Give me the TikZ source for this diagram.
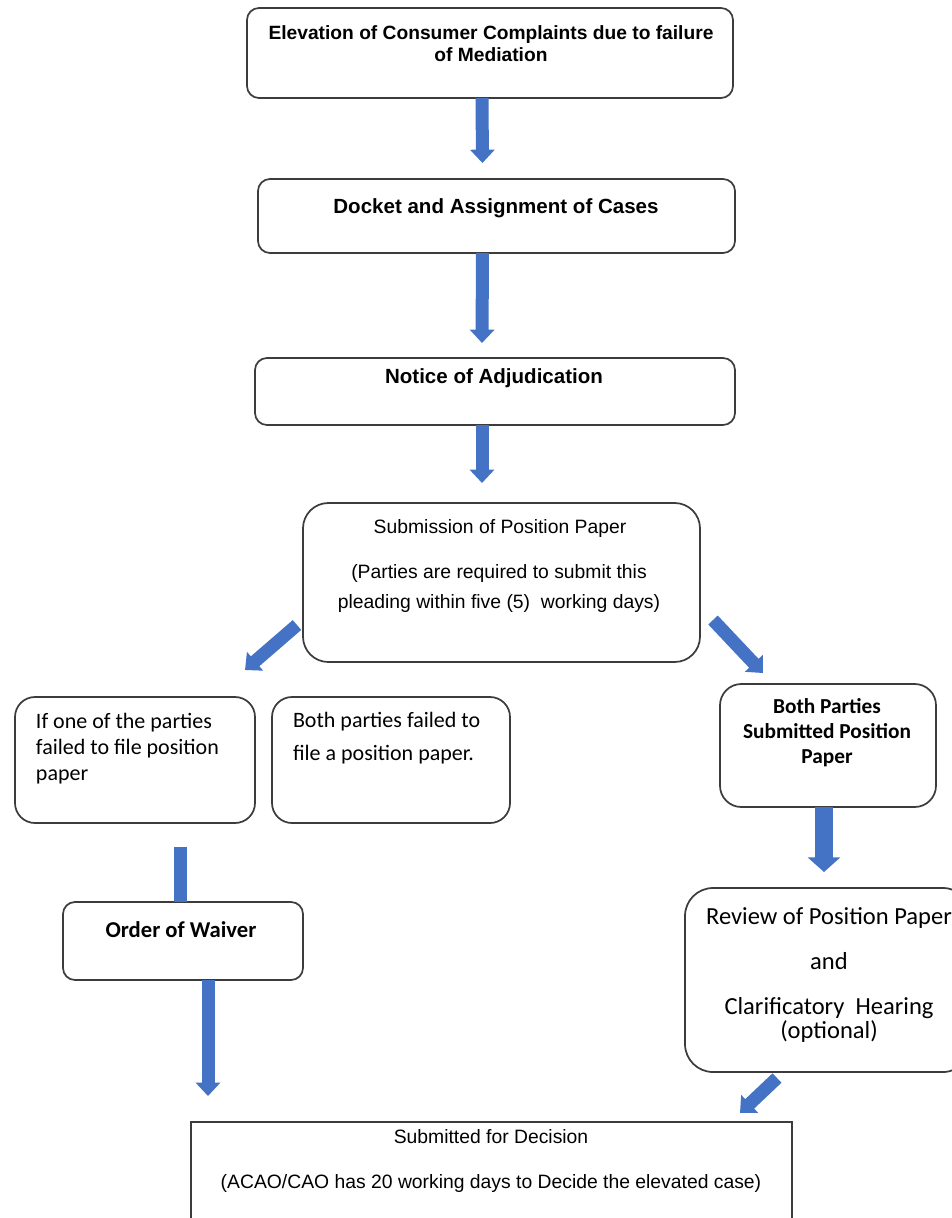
\documentclass[tikz,border=0pt]{standalone}
\usepackage{fontspec}
\setmainfont{Liberation Sans}
\newfontfamily\calib{Carlito}
\usetikzlibrary{arrows.meta,calc}

\definecolor{flowblue}{RGB}{68,114,196}
\definecolor{edgegray}{RGB}{60,60,60}

\begin{document}
\begin{tikzpicture}[x=0.75pt, y=-0.75pt]
\tikzset{ >=Triangle, inner sep=0pt, outer sep=0pt,
  box/.style={draw=edgegray, line width=1.3pt, rounded corners=9pt},
  flow/.style={-{Triangle[width=18pt, length=10pt]}, line width=9.75pt, draw=flowblue},
  bigflow/.style={-{Triangle[width=24pt, length=11pt]}, line width=13.5pt, draw=flowblue},
  bar/.style={line width=9.75pt, draw=flowblue},
  arialtxt/.style={font=\fontsize{14.5pt}{17pt}\selectfont, align=center},
  headtxt/.style={font=\fontsize{15.4pt}{18pt}\selectfont\bfseries},
}

\useasboundingbox (0,0) rectangle (951,1218);
%\draw [lightgray, dashed] (0,0) grid[step=50] (951,1218);

% boxes
\node [box, minimum width=364.5pt, minimum height=67.5pt] (elev) at (490,53) {};
\node [box, minimum width=357.75pt, minimum height=55.5pt] (docket) at (496.5,216) {};
\node [box, minimum width=360pt, minimum height=50.25pt] (notice) at (495,391.5) {};
\node [box, rounded corners=19pt, minimum width=297.75pt, minimum height=119.25pt] (submit) at (501.5,582.5) {};
\node [box, rounded corners=15pt, minimum width=180pt, minimum height=94.5pt] (oneparty) at (135,760) {};
\node [box, rounded corners=15pt, minimum width=178.5pt, minimum height=94.5pt] (bothfail) at (391,760) {};
\node [box, rounded corners=16pt, minimum width=162pt, minimum height=92.25pt] (bothsub) at (828,745.5) {};
\node [box, rounded corners=21pt, minimum width=214.5pt, minimum height=138pt] (review) at (828,980) {};
\node [box, minimum width=180pt, minimum height=58.5pt] (waiver) at (183,941) {};
\node [box, rounded corners=0pt, minimum width=450.75pt, minimum height=105pt] (decision) at (491.5,1192) {};

% texts
\node [font=\fontsize{14.4pt}{16.5pt}\selectfont\bfseries, align=center] (t-elev) at (491,44)
  {Elevation of Consumer Complaints due to failure\\ of Mediation};
\node [headtxt] (t-docket) at (496,208) {Docket and Assignment of Cases};
\node [headtxt] (t-notice) at (494,378) {Notice of Adjudication};
\node [arialtxt] (t-submit) at (500,528) {Submission of Position Paper};
\node [arialtxt, font=\fontsize{14.5pt}{22.5pt}\selectfont] (t-submit2) at (499,588)
  {(Parties are required to submit this\\pleading within five (5)~~working days)};
\node [anchor=west, align=left, font=\calib\fontsize{16.5pt}{19.5pt}\selectfont] (t-oneparty) at (36,749)
  {If one of the parties\\failed to file position\\paper};
\node [anchor=west, align=left, font=\calib\fontsize{16.5pt}{24.75pt}\selectfont] (t-bothfail) at (293,738.5)
  {Both parties failed to\\file a position paper.};
\node [align=center, font=\calib\fontsize{16pt}{18.75pt}\selectfont\bfseries] (t-bothsub) at (827,733)
  {Both Parties\\Submitted Position\\Paper};
\node [font=\calib\fontsize{17pt}{20pt}\selectfont\bfseries] (t-waiver) at (181,930) {Order of Waiver};
\node [align=center, font=\calib\fontsize{18.4pt}{16.5pt}\selectfont] (t-review) at (829,975)
  {Review of Position~Paper\\[17.25pt]and\\[17.25pt]Clarificatory~~Hearing\\(optional)};
\node [arialtxt, font=\fontsize{14.5pt}{33.75pt}\selectfont] (t-decision) at (491,1160.5)
  {Submitted for Decision\\(ACAO/CAO has 20 working days to Decide the elevated case)};

% arrows
\draw [flow] ($(elev.south)+(-8,0)$) -- ($(docket.north)+(-14,-16)$);
\draw [flow] ($(docket.south)+(-14,0)$) -- ($(notice.north)+(-13,-15)$);
\draw [flow] ($(notice.south)+(-13,0)$) -- ($(submit.north)+(-19.5,-20)$);
\draw [flow] ($(submit.west)+(-6,42.5)$) -- ($(oneparty.north east)+(-10,-27)$);
\draw [flow] ($(submit.east)+(13,37.5)$) -- ($(bothsub.north west)+(43,-11)$);
\draw [bigflow] ($(bothsub.south)+(-4,0)$) -- ($(review.north)+(-4,-16)$);
\draw [bar] ($(oneparty.south)+(45,24)$) -- ($(waiver.north)+(-3,0)$);
\draw [flow] ($(waiver.south)+(25,0)$) -- ($(decision.north west)+(17,-26)$);
\draw [flow] ($(review.south)+(-51,6)$) -- ($(decision.north east)+(-52,-9)$);
\end{tikzpicture}
\end{document}
